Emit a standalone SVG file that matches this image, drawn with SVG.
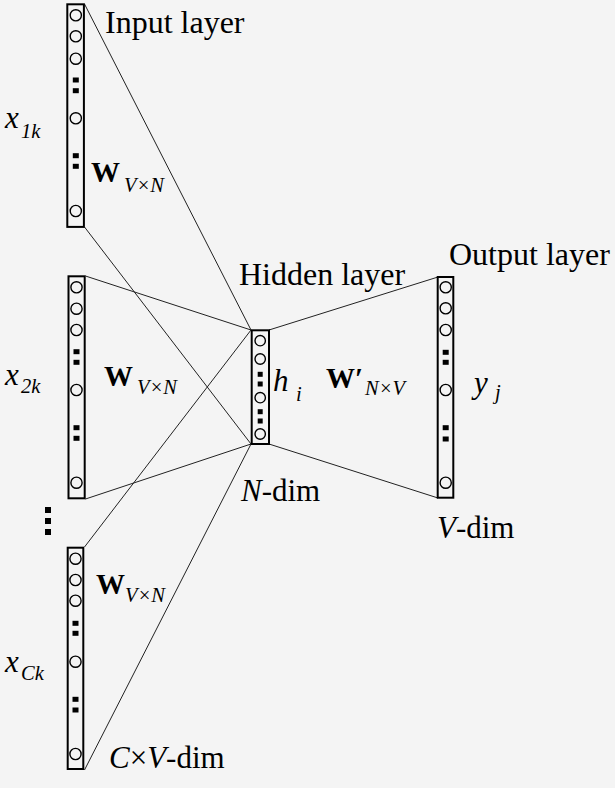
<svg xmlns="http://www.w3.org/2000/svg" xmlns:xlink="http://www.w3.org/1999/xlink" width="615" height="788" viewBox="0 0 615 788" font-family="'Liberation Serif', 'Times New Roman', 'DejaVu Serif', serif">
<style>
.bg{fill:#f4f4f4}
.box{fill:none;stroke:#000;stroke-width:2}
.n{fill:none;stroke:#000;stroke-width:1.4}
.sq{fill:#000}
.ln{stroke:#222;stroke-width:1;fill:none}
text{fill:#000}
.lbl{font-size:32px}
.dim{font-size:31px}
.it{font-style:italic}
.bw{font-weight:bold;font-size:29px}
.big{font-size:31px;font-style:italic}
.sub{font-size:20.5px;font-style:italic}
</style>
<defs>
<circle id="c" r="5.6" class="n"/>
<circle id="ch" r="5.2" class="n"/>
<rect id="s" x="-3" y="-2.5" width="6" height="5" class="sq"/>
<rect id="sh" x="-2.5" y="-2.5" width="5" height="5" class="sq"/>
</defs>
<rect class="bg" width="615" height="788"/>
<g id="connectors">
<line class="ln" x1="84.5" y1="4" x2="251" y2="330"/>
<line class="ln" x1="84.5" y1="227" x2="251" y2="444"/>
<line class="ln" x1="85.5" y1="276" x2="251" y2="330"/>
<line class="ln" x1="85.5" y1="499" x2="251" y2="444"/>
<line class="ln" x1="84.5" y1="547" x2="251" y2="330"/>
<line class="ln" x1="84.5" y1="770" x2="251" y2="444"/>
<line class="ln" x1="269" y1="330" x2="438" y2="277"/>
<line class="ln" x1="269" y1="444" x2="438" y2="498"/>
</g>
<g id="input1">
<rect class="box" x="67.3" y="4.3" width="16.6" height="222.6"/>
<use xlink:href="#c" x="75.8" y="15.3"/>
<use xlink:href="#c" x="75.8" y="36.3"/>
<use xlink:href="#c" x="75.8" y="58.7"/>
<use xlink:href="#s" x="75.8" y="80"/>
<use xlink:href="#s" x="75.8" y="90.7"/>
<use xlink:href="#c" x="75.8" y="118.3"/>
<use xlink:href="#s" x="75.8" y="155.7"/>
<use xlink:href="#s" x="75.8" y="166.3"/>
<use xlink:href="#c" x="75.8" y="211"/>
<text class="lbl" x="105" y="33">Input layer</text>
<text class="big" x="5" y="128">x</text><text class="sub" x="21" y="138">1k</text>
<text class="bw" x="91" y="182">W</text><text class="sub" x="124" y="192">V×N</text>
</g>
<g id="input2">
<rect class="box" x="68.5" y="276.3" width="16.2" height="222"/>
<use xlink:href="#c" x="76.5" y="287.3"/>
<use xlink:href="#c" x="76.5" y="308.7"/>
<use xlink:href="#c" x="76.5" y="330"/>
<use xlink:href="#s" x="76.5" y="351.7"/>
<use xlink:href="#s" x="76.5" y="362.3"/>
<use xlink:href="#c" x="76.5" y="390"/>
<use xlink:href="#s" x="76.5" y="427.7"/>
<use xlink:href="#s" x="76.5" y="438.3"/>
<use xlink:href="#c" x="76.5" y="482.7"/>
<text class="big" x="5" y="385">x</text><text class="sub" x="21" y="393">2k</text>
<text class="bw" x="104" y="386">W</text><text class="sub" x="137" y="394">V×N</text>
</g>
<g id="ellipsis">
<rect class="sq" x="45" y="507" width="6" height="6"/>
<rect class="sq" x="45" y="518" width="6" height="6"/>
<rect class="sq" x="45" y="529" width="6" height="6"/>
</g>
<g id="inputC">
<rect class="box" x="67.7" y="547.7" width="15.6" height="221.3"/>
<use xlink:href="#c" x="75.5" y="558.7"/>
<use xlink:href="#c" x="75.5" y="580"/>
<use xlink:href="#c" x="75.5" y="600.7"/>
<use xlink:href="#s" x="75.5" y="623.3"/>
<use xlink:href="#s" x="75.5" y="633.3"/>
<use xlink:href="#c" x="75.5" y="661.7"/>
<use xlink:href="#s" x="75.5" y="699.3"/>
<use xlink:href="#s" x="75.5" y="710"/>
<use xlink:href="#c" x="75.5" y="754"/>
<text class="big" x="5" y="672">x</text><text class="sub" x="21" y="680">Ck</text>
<text class="bw" x="96" y="594">W</text><text class="sub" x="125" y="602">V×N</text>
<text class="dim" x="109" y="768"><tspan class="it">C</tspan>×<tspan class="it">V</tspan>-dim</text>
</g>
<g id="hidden">
<rect class="box" x="251.7" y="330.3" width="17.3" height="113.7"/>
<use xlink:href="#ch" x="260.2" y="340.7"/>
<use xlink:href="#ch" x="260.2" y="359"/>
<use xlink:href="#sh" x="260.2" y="374.3"/>
<use xlink:href="#sh" x="260.2" y="384"/>
<use xlink:href="#ch" x="260.2" y="397.7"/>
<use xlink:href="#sh" x="260.2" y="411.7"/>
<use xlink:href="#sh" x="260.2" y="421"/>
<use xlink:href="#ch" x="260.2" y="434"/>
<text class="lbl" x="239" y="285">Hidden layer</text>
<text class="big" x="273" y="391">h</text><text class="sub" x="296" y="401">i</text>
<text class="dim" x="241" y="501"><tspan class="it">N</tspan>-dim</text>
<text class="bw" x="326" y="388">W′</text><text class="sub" x="365" y="394.5">N×V</text>
</g>
<g id="output">
<rect class="box" x="437.7" y="277" width="15.6" height="220.7"/>
<use xlink:href="#c" x="445.7" y="287.3"/>
<use xlink:href="#c" x="445.7" y="308.3"/>
<use xlink:href="#c" x="445.7" y="330"/>
<use xlink:href="#s" x="445.7" y="352.3"/>
<use xlink:href="#s" x="445.7" y="362.3"/>
<use xlink:href="#c" x="445.7" y="390"/>
<use xlink:href="#s" x="445.7" y="427.7"/>
<use xlink:href="#s" x="445.7" y="439"/>
<use xlink:href="#c" x="445.7" y="482.7"/>
<text class="lbl" x="449" y="265">Output layer</text>
<text class="big" x="474" y="393">y</text><text class="sub" x="495" y="399">j</text>
<text class="dim" x="437" y="538"><tspan class="it">V</tspan>-dim</text>
</g>
</svg>
